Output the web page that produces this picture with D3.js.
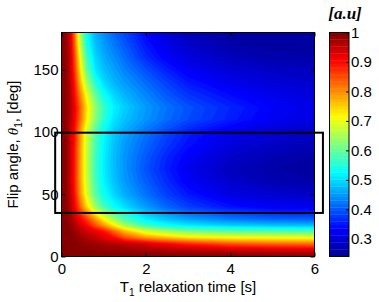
<!DOCTYPE html>
<html>
<head>
<meta charset="utf-8">
<script src="https://cdn.jsdelivr.net/npm/d3@7"></script>
<style>
body { margin: 0; background: #fff; }
text { font-family: Arial, "Liberation Sans", sans-serif; fill: #000; }
</style>
</head>
<body>
<div id="chart"></div>
<script>
var canvasWidth = 379;
var canvasHeight = 302;

/*Grid of the map: T1 columns and flip angle rows*/
var t1Values = [0, 0.1, 0.2, 0.3, 0.4, 0.5, 0.6, 0.8, 1.0, 1.25, 1.5, 2, 2.5, 3, 4, 5, 6];
var flipAngles = [0, 5, 10, 15, 20, 25, 30, 40, 50, 60, 70, 80, 90, 100, 110, 120, 130, 140, 150, 160, 170, 180];

/*Signal [a.u], one row per flip angle*/
var signal = [
    [1, 1, 1, 1, 1, 1, 1, 1, 1, 1, 1, 1, 1, 1, 1, 1, 1],
    [1.0, 1.0, 0.999, 0.998, 0.997, 0.995, 0.993, 0.99, 0.987, 0.983, 0.98, 0.972, 0.965, 0.958, 0.948, 0.94, 0.935],
    [1.0, 1.0, 0.998, 0.995, 0.992, 0.988, 0.985, 0.977, 0.97, 0.962, 0.955, 0.935, 0.905, 0.88, 0.845, 0.83, 0.825],
    [1.0, 0.999, 0.995, 0.99, 0.982, 0.972, 0.962, 0.95, 0.925, 0.9, 0.845, 0.79, 0.76, 0.735, 0.715, 0.71, 0.705],
    [1.0, 0.998, 0.99, 0.98, 0.968, 0.952, 0.94, 0.92, 0.895, 0.83, 0.77, 0.69, 0.65, 0.62, 0.6, 0.59, 0.585],
    [1.0, 0.997, 0.985, 0.968, 0.945, 0.925, 0.9, 0.845, 0.79, 0.72, 0.65, 0.57, 0.53, 0.51, 0.49, 0.48, 0.475],
    [1.0, 0.995, 0.978, 0.95, 0.92, 0.89, 0.86, 0.79, 0.72, 0.64, 0.58, 0.515, 0.48, 0.455, 0.425, 0.41, 0.405],
    [1.0, 0.992, 0.965, 0.915, 0.855, 0.795, 0.74, 0.64, 0.575, 0.53, 0.5, 0.45, 0.41, 0.38, 0.345, 0.325, 0.32],
    [1.0, 0.99, 0.955, 0.9, 0.82, 0.755, 0.69, 0.59, 0.535, 0.495, 0.465, 0.42, 0.38, 0.35, 0.31, 0.295, 0.285],
    [1.0, 0.99, 0.95, 0.89, 0.81, 0.745, 0.675, 0.575, 0.52, 0.48, 0.45, 0.405, 0.365, 0.33, 0.29, 0.27, 0.262],
    [1.0, 0.99, 0.95, 0.89, 0.81, 0.74, 0.67, 0.57, 0.515, 0.475, 0.445, 0.395, 0.355, 0.32, 0.28, 0.26, 0.25],
    [1.0, 0.99, 0.95, 0.89, 0.81, 0.74, 0.67, 0.57, 0.515, 0.475, 0.445, 0.4, 0.36, 0.33, 0.29, 0.27, 0.258],
    [1.0, 0.99, 0.95, 0.895, 0.815, 0.745, 0.675, 0.58, 0.52, 0.48, 0.45, 0.41, 0.375, 0.345, 0.305, 0.285, 0.272],
    [1.0, 0.99, 0.95, 0.9, 0.82, 0.75, 0.68, 0.585, 0.525, 0.485, 0.46, 0.42, 0.385, 0.355, 0.32, 0.3, 0.288],
    [1.0, 0.99, 0.962, 0.915, 0.85, 0.785, 0.722, 0.625, 0.555, 0.505, 0.48, 0.445, 0.415, 0.39, 0.355, 0.325, 0.308],
    [1.0, 0.99, 0.965, 0.92, 0.86, 0.795, 0.733, 0.635, 0.565, 0.515, 0.49, 0.45, 0.42, 0.395, 0.36, 0.332, 0.312],
    [1.0, 0.99, 0.962, 0.905, 0.83, 0.765, 0.7, 0.6, 0.535, 0.495, 0.47, 0.435, 0.4, 0.372, 0.34, 0.318, 0.305],
    [1.0, 0.99, 0.957, 0.89, 0.8, 0.72, 0.645, 0.55, 0.5, 0.47, 0.45, 0.415, 0.38, 0.35, 0.318, 0.3, 0.29],
    [1.0, 0.99, 0.95, 0.87, 0.77, 0.68, 0.6, 0.51, 0.48, 0.455, 0.432, 0.392, 0.355, 0.327, 0.3, 0.285, 0.28],
    [1.0, 0.988, 0.95, 0.86, 0.75, 0.65, 0.57, 0.495, 0.465, 0.44, 0.415, 0.365, 0.33, 0.305, 0.278, 0.265, 0.26],
    [1.0, 0.985, 0.945, 0.84, 0.72, 0.62, 0.54, 0.48, 0.452, 0.425, 0.4, 0.35, 0.315, 0.29, 0.262, 0.255, 0.255],
    [1.0, 0.985, 0.94, 0.83, 0.7, 0.6, 0.525, 0.47, 0.44, 0.41, 0.385, 0.335, 0.3, 0.275, 0.255, 0.25, 0.25]
];

var xTicks = [0, 2, 4, 6];
var yTicks = [0, 50, 100, 150];
var colorTicks = [0.3, 0.4, 0.5, 0.6, 0.7, 0.8, 0.9, 1];
var colorRange = [0.24, 1];

/*Highlight box, in data units*/
var boxT1 = [-0.15, 6.2];
var boxAngle = [35, 99.5];

var svg = d3.select("#chart").append("svg")
    .attr("width", canvasWidth)
    .attr("height", canvasHeight);

/*Scales*/
var xScale = d3.scaleLinear().domain([0, 6]).range([61.5, 314.5]);
var yScale = d3.scaleLinear().domain([0, 180]).range([256.5, 32.5]);
var colScale = d3.scaleLinear().domain([colorRange[0], 1]).range([256.5, 32.5]);

/*jet colormap*/
var jet = d3.scaleLinear()
    .domain([0, 1/8, 3/8, 5/8, 7/8, 1])
    .range(["#000090", "#0000ff", "#00ffff", "#ffff00", "#ff0000", "#800000"])
    .clamp(true);
function myColor(v) {
    return jet((v - colorRange[0]) / (colorRange[1] - colorRange[0]));
}

/*Grid index -> data value (grid is not evenly spaced)*/
var n = t1Values.length, m = flipAngles.length;
var iScale = d3.scaleLinear().domain(d3.range(n)).range(t1Values).clamp(true);
var jScale = d3.scaleLinear().domain(d3.range(m)).range(flipAngles).clamp(true);

var flat = [];
signal.forEach(function (row) { row.forEach(function (v) { flat.push(v); }); });

var step = 0.01;
var levels = d3.range(colorRange[0], 1.0001, step);
var contours = d3.contours().size([n, m]).thresholds(levels)(flat);

var project = d3.geoTransform({
    point: function (px, py) {
        this.stream.point(xScale(iScale(px - 0.5)), yScale(jScale(py - 0.5)));
    }
});
var path = d3.geoPath(project);

svg.append("clipPath").attr("id", "plotClip")
    .append("rect")
    .attr("x", xScale(0)).attr("y", yScale(180))
    .attr("width", xScale(6) - xScale(0)).attr("height", yScale(0) - yScale(180));

var map_g = svg.append("g").attr("clip-path", "url(#plotClip)");

map_g.append("rect")
    .attr("x", xScale(0)).attr("y", yScale(180))
    .attr("width", xScale(6) - xScale(0)).attr("height", yScale(0) - yScale(180))
    .attr("fill", myColor(colorRange[0]));

map_g.selectAll("path")
    .data(contours)
    .join("path")
    .attr("d", path)
    .attr("fill", function (d) { return myColor(d.value + step / 2); })
    .attr("stroke", function (d) { return myColor(d.value + step / 2); })
    .attr("stroke-width", 0.3);

/*Axes, ticks inward on all sides*/
svg.append("g")
    .attr("transform", "translate(0," + yScale(0) + ")")
    .call(d3.axisBottom(xScale).tickValues(xTicks).tickSizeInner(-4).tickSizeOuter(0).tickPadding(7).tickFormat(d3.format("d")));
svg.append("g")
    .attr("transform", "translate(0," + yScale(180) + ")")
    .call(d3.axisTop(xScale).tickValues(xTicks).tickSizeInner(-4).tickSizeOuter(0).tickFormat(""));
svg.append("g")
    .attr("transform", "translate(" + xScale(0) + ",0)")
    .call(d3.axisLeft(yScale).tickValues(yTicks).tickSizeInner(-4).tickSizeOuter(0).tickPadding(3).tickFormat(d3.format("d")));
svg.append("g")
    .attr("transform", "translate(" + xScale(6) + ",0)")
    .call(d3.axisRight(yScale).tickValues(yTicks).tickSizeInner(-4).tickSizeOuter(0).tickFormat(""));

svg.selectAll(".domain").remove();
svg.selectAll(".tick line").attr("stroke", "#000");
svg.selectAll(".tick text").attr("font-size", 15).attr("font-family", "Arial, 'Liberation Sans', sans-serif").attr("fill", "#000");

svg.append("rect")
    .attr("x", xScale(0)).attr("y", yScale(180))
    .attr("width", xScale(6) - xScale(0)).attr("height", yScale(0) - yScale(180))
    .attr("fill", "none").attr("stroke", "#000").attr("stroke-width", 1);

/*Highlight box*/
svg.append("rect")
    .attr("x", xScale(boxT1[0])).attr("y", yScale(boxAngle[1]))
    .attr("width", xScale(boxT1[1]) - xScale(boxT1[0]))
    .attr("height", yScale(boxAngle[0]) - yScale(boxAngle[1]))
    .attr("fill", "none").attr("stroke", "#000").attr("stroke-width", 2);

/*Axis labels*/
var xLabel = svg.append("text")
    .attr("x", (xScale(0) + xScale(6)) / 2)
    .attr("y", 292)
    .attr("text-anchor", "middle")
    .attr("font-size", 15);
xLabel.append("tspan").text("T");
xLabel.append("tspan").attr("font-size", 10).attr("dy", 4).text("1");
xLabel.append("tspan").attr("dy", -4).text(" relaxation time [s]");

var yLabel = svg.append("text")
    .attr("transform", "translate(18," + (yScale(0) + yScale(180)) / 2 + ") rotate(-90)")
    .attr("text-anchor", "middle")
    .attr("font-size", 15);
yLabel.append("tspan").text("Flip angle, ");
yLabel.append("tspan").attr("font-family", "'Liberation Serif', 'Times New Roman', serif").attr("font-style", "italic").text("θ");
yLabel.append("tspan").attr("font-size", 10).attr("dy", 4).text("1");
yLabel.append("tspan").attr("dy", -4).text(", [deg]");

/*Colorbar*/
var cbX = 329.5, cbW = 19.5;
var cbStep = (1 - colorRange[0]) / 64;
var cbSteps = d3.range(64).map(function (k) { return colorRange[0] + k * cbStep; });
var cb_g = svg.append("g");
cb_g.selectAll("rect")
    .data(cbSteps)
    .join("rect")
    .attr("x", cbX)
    .attr("width", cbW)
    .attr("y", function (d) { return colScale(d + cbStep); })
    .attr("height", function (d) { return colScale(d) - colScale(d + cbStep) + 0.3; })
    .attr("fill", function (d) { return myColor(d + cbStep / 2); });

var cbAxis = svg.append("g")
    .attr("transform", "translate(" + (cbX + cbW) + ",0)")
    .call(d3.axisRight(colScale).tickValues(colorTicks).tickSizeInner(-3).tickSizeOuter(0).tickPadding(2).tickFormat(d3.format("~g")));
cbAxis.select(".domain").remove();
cbAxis.selectAll(".tick line").attr("stroke", "#000");
cbAxis.selectAll(".tick text").attr("font-size", 15).attr("fill", "#000");

cb_g.append("rect")
    .attr("x", cbX).attr("y", colScale(1))
    .attr("width", cbW).attr("height", colScale(colorRange[0]) - colScale(1))
    .attr("fill", "none").attr("stroke", "#000").attr("stroke-width", 1);

svg.append("text")
    .attr("x", 345)
    .attr("y", 19)
    .attr("text-anchor", "middle")
    .attr("font-weight", "bold")
    .attr("font-style", "italic")
    .attr("font-size", 17)
    .style("font-family", "'Liberation Serif', 'Times New Roman', serif")
    .text("[a.u]");
</script>
</body>
</html>
